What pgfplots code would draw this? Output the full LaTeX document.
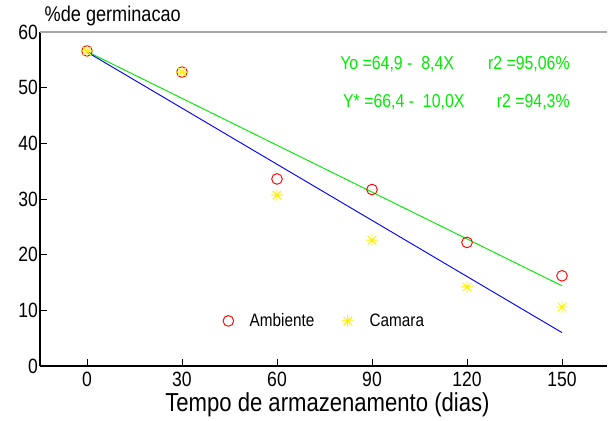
\documentclass[border=0pt]{standalone}
\usepackage{fontspec}
\setmainfont[FakeStretch=0.85]{Liberation Sans}
\usepackage{pgfplots}
\pgfplotsset{compat=1.18}
\definecolor{cgreen}{RGB}{0,235,0}
\definecolor{cblue}{RGB}{0,0,255}
\definecolor{cred}{RGB}{255,0,0}
\definecolor{cyellow}{RGB}{255,240,0}
\pgfdeclareplotmark{star8}{%
  \pgfpathmoveto{\pgfpoint{-\pgfplotmarksize}{0pt}}\pgfpathlineto{\pgfpoint{\pgfplotmarksize}{0pt}}%
  \pgfpathmoveto{\pgfpoint{0pt}{-\pgfplotmarksize}}\pgfpathlineto{\pgfpoint{0pt}{\pgfplotmarksize}}%
  \pgfpathmoveto{\pgfpoint{-.707\pgfplotmarksize}{-.707\pgfplotmarksize}}\pgfpathlineto{\pgfpoint{.707\pgfplotmarksize}{.707\pgfplotmarksize}}%
  \pgfpathmoveto{\pgfpoint{-.707\pgfplotmarksize}{.707\pgfplotmarksize}}\pgfpathlineto{\pgfpoint{.707\pgfplotmarksize}{-.707\pgfplotmarksize}}%
  \pgfusepathqstroke}
\begin{document}
\begin{tikzpicture}
\useasboundingbox (0,0) rectangle (456pt,315.75pt);
\begin{axis}[
  at={(30pt,41.25pt)}, anchor=south west,
  scale only axis, width=425.25pt, height=250.5pt,
  xmin=-14.84, xmax=164.2, ymin=0, ymax=60,
  xtick={0,30,60,90,120,150}, ytick={0,10,20,30,40,50,60},
  axis x line*=bottom, axis y line*=left,
  x axis line style={line width=1.4pt},
  y axis line style={line width=1pt},
  tick align=inside, major tick length=5.5pt,
  tick style={black, line width=0.6pt},
  /pgf/number format/assume math mode=true,
  ticklabel style={font=\fontsize{15.5}{18}\selectfont},
  xticklabel style={yshift=-1pt},
  yticklabel style={xshift=2pt},
  every axis x label/.style={at={(axis description cs:0.507,-0.1377)},anchor=base},
  every axis y label/.style={at={(axis description cs:0,1.03)},anchor=base west},
  xlabel={\fontsize{19.5}{22}\selectfont Tempo de armazenamento (dias)},
  ylabel={\fontsize{16}{19}\selectfont \%de germinacao},
  legend style={at={(axis description cs:0.3153,0.135)}, anchor=west, draw=none, fill=none,
    font=\fontsize{13.5}{16}\selectfont, legend columns=2,
    /tikz/every odd column/.append style={column sep=10pt},
    /tikz/every even column/.append style={column sep=18.5pt}},
  clip=false,
]
\draw[gray!70, line width=0.8pt] (rel axis cs:0,1) -- (rel axis cs:1,1);
\addplot[forget plot, cgreen, line width=0.7pt] coordinates {(0,56.5) (150,14.4)};
\addplot[forget plot, cblue, line width=0.7pt] coordinates {(0,56.4) (150,6.0)};
\addplot[only marks, mark=o, mark size=4pt, draw=cred, line width=0.7pt]
  coordinates {(0,56.6) (30,52.8) (60,33.6) (90,31.7) (120,22.2) (150,16.2)};
\addlegendentry{Ambiente}
\addplot[only marks, mark=star8, mark size=4.5pt, draw=cyellow, line width=0.7pt]
  coordinates {(0,56.6) (30,52.8) (60,30.7) (90,22.6) (120,14.2) (150,10.6)};
\addlegendentry{Camara}
\node[anchor=base west, text=cgreen, font=\fontsize{14}{16}\selectfont, inner sep=0pt] at (axis cs:79.9,53.35) {Yo =64,9 -\ \ 8,4X};
\node[anchor=base east, text=cgreen, font=\fontsize{14}{16}\selectfont, inner sep=0pt] at (axis cs:152.5,53.35) {r2 =95,06\%};
\node[anchor=base west, text=cgreen, font=\fontsize{14}{16}\selectfont, inner sep=0pt] at (axis cs:80.8,46.5) {Y* =66,4 -\ \ 10,0X};
\node[anchor=base east, text=cgreen, font=\fontsize{14}{16}\selectfont, inner sep=0pt] at (axis cs:152.5,46.5) {r2 =94,3\%};
\end{axis}
\end{tikzpicture}
\end{document}
